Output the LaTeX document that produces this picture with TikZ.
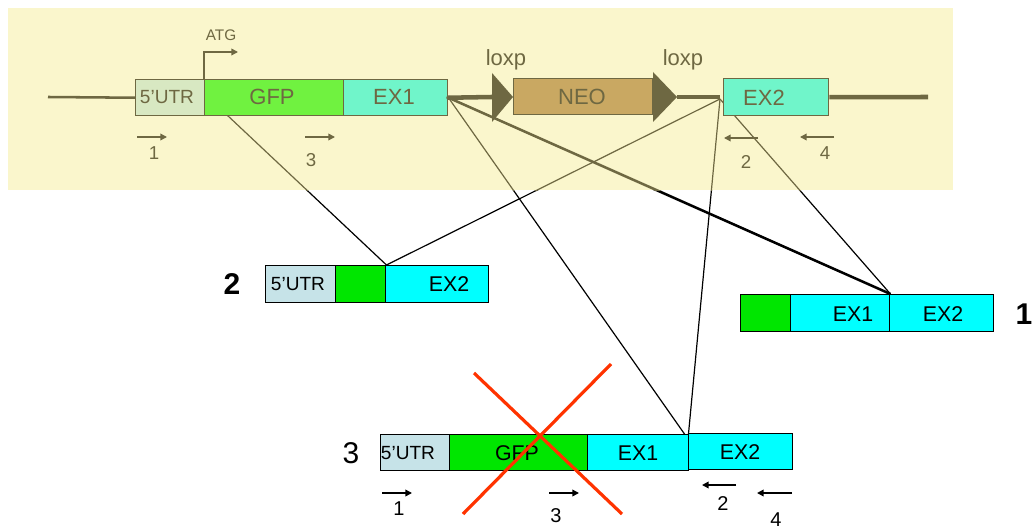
\documentclass[tikz,border=0pt]{standalone}
\usepackage{fontspec}
\setmainfont{Liberation Sans}
\usetikzlibrary{arrows.meta}
\definecolor{oliv}{RGB}{110,104,66}
\definecolor{bgyel}{RGB}{250,246,204}
\definecolor{utrtop}{RGB}{216,232,194}
\definecolor{gfptop}{RGB}{112,242,64}
\definecolor{extop}{RGB}{112,245,202}
\definecolor{neotop}{RGB}{201,168,98}
\definecolor{utrbot}{RGB}{198,227,232}
\definecolor{gfpbot}{RGB}{0,230,0}
\definecolor{exbot}{RGB}{0,255,255}
\definecolor{xred}{RGB}{255,51,0}
\pgfdeclarelayer{blines}
\pgfdeclarelayer{bg}
\pgfdeclarelayer{olines}
\pgfsetlayers{blines,bg,olines,main}
\newcommand\connset[2]{%
  \draw[#1] (ga) -- (c2g.north east);
  \draw[#1] (jj) -- (c2g.north east);
  \draw[#1] (ex1T.east) -- (k3);
  \draw[#1] (jj) -- (k3);
  \draw[#2] (ex1T.east) -- (c1e1.north east);
  \draw[#1] (jj) -- (c1e1.north east);
}
\begin{document}
\begin{tikzpicture}[x=0.75pt,y=-0.75pt,
  box/.style 2 args={draw, inner sep=0pt, anchor=north west, minimum width=#1*0.75pt, minimum height=#2*0.75pt},
  topbox/.style={draw=oliv, line width=1.1pt},
  botbox/.style={draw=black, line width=1.1pt},
  tT/.style={text=oliv, font=\fontsize{16.5}{18}\selectfont, inner sep=0pt},
  tU/.style={text=oliv, font=\fontsize{14.3}{16}\selectfont, inner sep=0pt},
  tP/.style={text=oliv, font=\fontsize{14}{16}\selectfont, inner sep=0pt},
  bT/.style={text=black, font=\fontsize{16}{18}\selectfont, inner sep=0pt},
  bU/.style={text=black, font=\fontsize{14.3}{16}\selectfont, inner sep=0pt},
  bP/.style={text=black, font=\fontsize{15}{17}\selectfont, inner sep=0pt},
  tarr/.style={draw=oliv, line width=1.1pt, -{Triangle[length=5pt,width=5pt]}},
  barr/.style={draw=black, line width=1.1pt, -{Triangle[length=5pt,width=5pt]}},
  thin/.style={line width=0.9pt},
  thick2/.style={line width=1.9pt},
  gline/.style={draw=oliv, line width=3.4pt},
  redx/.style={draw=xred, line width=2.4pt}
]
\useasboundingbox (0,0) rectangle (1034,531);

% ---------- top construct ----------
\node[box={69}{36}, topbox, fill=utrtop] (utrT) at (135,79) {};
\node[box={139}{36}, topbox, fill=gfptop] (gfpT) at (204,79) {};
\node[box={104}{36}, topbox, fill=extop] (ex1T) at (343,79) {};
\node[box={139}{36}, topbox, fill=neotop] (neoT) at (513,78) {};
\node[box={105}{37}, topbox, fill=extop] (ex2T) at (723,78) {};

\node[tU] (utrTt) at (167,97) {5’UTR};
\node[tT] (gfpTt) at (272,97) {GFP};
\node[tT] (ex1Tt) at (394,97) {EX1};
\node[tT] (neoTt) at (582,97) {NEO};
\node[tT] (ex2Tt) at (764,98) {EX2};

\coordinate (lstart) at (48,97);
\coordinate (lox1) at (492,97);
\coordinate (lox2) at (677,97);
\coordinate (jj) at (720,99);
\coordinate (jline) at (720,97);
\coordinate (rend) at (928,97);
\coordinate (ga) at (227,115);
\coordinate (k3) at (688,439);

\draw[draw=oliv, line width=1.9pt] (lstart) -- (utrT.west);
\draw[gline] (ex1T.east) -- (lox1);
\draw[gline] (lox2) -- (jline);
\draw[gline] (ex2T.east) -- (rend);
\fill[oliv] (ex1T.east) circle (2.2);

\fill[oliv] (492,73) -- (513,97) -- (492,122) -- cycle;
\fill[oliv] (653,72) -- (677,97) -- (653,122) -- cycle;

\node[tT] (lx1) at (506,60) {loxp};
\node[tT] (lx2) at (683,60) {loxp};

% ATG
\coordinate (atgc) at (204,52);
\coordinate (atge) at (238,52);
\draw[tarr] (gfpT.north west) -- (atgc) -- (atge);
\node[text=oliv, font=\fontsize{11.5}{13}\selectfont, inner sep=0pt] (atg) at (221,35) {ATG};

% primers top
\coordinate (p1a) at (137,137); \coordinate (p1b) at (167,137);
\coordinate (p3a) at (305,137); \coordinate (p3b) at (335,137);
\coordinate (p2a) at (758,138); \coordinate (p2b) at (724,138);
\coordinate (p4a) at (834,137); \coordinate (p4b) at (800,137);
\draw[tarr] (p1a) -- (p1b);
\draw[tarr] (p3a) -- (p3b);
\draw[tarr] (p2a) -- (p2b);
\draw[tarr] (p4a) -- (p4b);
\node[tP] (l1) at (154,153) {1};
\node[tP] (l3) at (311,160) {3};
\node[tP] (l2) at (746,162) {2};
\node[tP] (l4) at (825,153) {4};

% ---------- construct 2 ----------
\node[box={70}{37}, botbox, fill=utrbot] (c2u) at (265,265) {};
\node[box={50}{37}, botbox, fill=gfpbot] (c2g) at (335,265) {};
\node[box={103}{37}, botbox, fill=exbot] (c2e) at (385,265) {};
\node[bU] (c2ut) at (298,284) {5’UTR};
\node[bT] (c2et) at (449,284) {EX2};
\node[text=black, font=\fontsize{22.5}{24}\selectfont\bfseries, inner sep=0pt] (lab2) at (232,284) {2};

% ---------- construct 1 ----------
\node[box={50}{37}, botbox, fill=gfpbot] (c1g) at (740,294) {};
\node[box={99}{37}, botbox, fill=exbot] (c1e1) at (790,294) {};
\node[box={104}{37}, botbox, fill=exbot] (c1e2) at (889,294) {};
\node[bT] (c1e1t) at (853,314) {EX1};
\node[bT] (c1e2t) at (943,314) {EX2};
\node[text=black, font=\fontsize{22.5}{24}\selectfont\bfseries, inner sep=0pt] (lab1) at (1024,314) {1};

% ---------- construct 3 ----------
\node[box={69}{36}, botbox, fill=utrbot] (c3u) at (380,434) {};
\node[box={138}{36}, botbox, fill=gfpbot] (c3g) at (449,434) {};
\node[box={101}{36}, botbox, fill=exbot] (c3e1) at (587,434) {};
\node[box={104}{36}, botbox, fill=exbot] (c3e2) at (688,433) {};
\node[bU] (c3ut) at (408,453) {5’UTR};
\node[bT] (c3gt) at (517,453) {GFP};
\node[bT] (c3e1t) at (638,453) {EX1};
\node[bT] (c3e2t) at (740,452) {EX2};
\node[text=black, font=\fontsize{22.5}{24}\selectfont, inner sep=0pt] (lab3) at (351,453) {3};

\coordinate (q1a) at (382,493); \coordinate (q1b) at (412,493);
\coordinate (q3a) at (549,493); \coordinate (q3b) at (579,493);
\coordinate (q2a) at (736,485); \coordinate (q2b) at (702,485);
\coordinate (q4a) at (792,493); \coordinate (q4b) at (757,493);
\draw[barr] (q1a) -- (q1b);
\draw[barr] (q3a) -- (q3b);
\draw[barr] (q2a) -- (q2b);
\draw[barr] (q4a) -- (q4b);
\node[bP] (m1) at (399,509) {1};
\node[bP] (m3) at (556,516) {3};
\node[bP] (m2) at (723,504) {2};
\node[bP] (m4) at (776,520) {4};

% red cross
\draw[redx] (474,373) -- (622,514);
\draw[redx] (611,364) -- (463,514);

% ---------- connector layers ----------
\begin{pgfonlayer}{blines}
  \connset{draw=black, thin}{draw=black, thick2}
\end{pgfonlayer}
\begin{pgfonlayer}{bg}
  \fill[bgyel] (8,8) rectangle (953,190);
\end{pgfonlayer}
\begin{pgfonlayer}{olines}
  \begin{scope}
    \clip (8,8) rectangle (953,190);
    \connset{draw=oliv, thin}{draw=oliv, thick2}
  \end{scope}
\end{pgfonlayer}
\end{tikzpicture}
\end{document}
